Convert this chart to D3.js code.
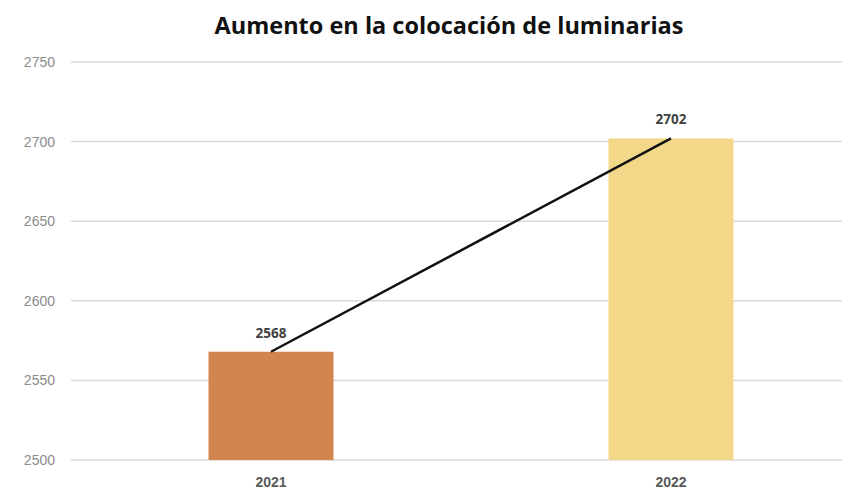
<!DOCTYPE html>
<html lang="es">
<head>
<meta charset="utf-8">
<title>Aumento en la colocación de luminarias</title>
<script src="https://cdnjs.cloudflare.com/ajax/libs/d3/7.8.5/d3.min.js"></script>
<style>
    body { margin: 0; background: #fff; }
    svg { display: block; font-family: "Open Sans", "Liberation Sans", sans-serif; }
    .grid line { stroke: #d9d9d9; stroke-width: 1.5px; }
    .y-axis text { fill: #8c8c8c; font-size: 14px; }
    .x-axis text { fill: #595959; font-size: 14px; font-weight: bold; }
    .value { fill: #404040; font-size: 13.5px; font-weight: bold; }
</style>
</head>
<body>
<svg id="chart" width="842" height="496"></svg>
<script>
// data
var years = ["2021", "2022"];
var values = [2568, 2702];
var barColors = ["#d3854f", "#f3d88a"];
var yTicks = [2500, 2550, 2600, 2650, 2700, 2750];

var svg = d3.select("#chart");

var x = d3.scaleBand()
    .domain(years)
    .range([71, 871])
    .paddingInner(0.6875)
    .paddingOuter(0.34375);

var y = d3.scaleLinear()
    .domain([2500, 2750])
    .range([460, 62]);

// title
svg.append("text")
    .attr("x", 449)
    .attr("y", 34)
    .attr("text-anchor", "middle")
    .style("font-size", "23.5px")
    .style("font-weight", "bold")
    .style("fill", "#111")
    .text("Aumento en la colocación de luminarias");

// gridlines
svg.append("g")
    .attr("class", "grid")
    .selectAll("line")
    .data(yTicks)
    .enter().append("line")
    .attr("x1", 71)
    .attr("x2", 842)
    .attr("y1", function (d) { return y(d); })
    .attr("y2", function (d) { return y(d); });

// y axis labels
var yAxis = svg.append("g")
    .attr("class", "y-axis")
    .attr("transform", "translate(55,0)")
    .call(d3.axisLeft(y).tickValues(yTicks).tickFormat(d3.format("d")).tickSize(0).tickPadding(0));
yAxis.select(".domain").remove();
yAxis.selectAll("text").style("font-family", null);

// bars
svg.append("g")
    .selectAll("rect")
    .data(values)
    .enter().append("rect")
    .attr("x", function (d, i) { return x(years[i]); })
    .attr("y", function (d) { return y(d); })
    .attr("width", x.bandwidth())
    .attr("height", function (d) { return y(2500) - y(d); })
    .attr("fill", function (d, i) { return barColors[i]; });

// trend line between bar tops
var line = d3.line()
    .x(function (d, i) { return x(years[i]) + x.bandwidth() / 2; })
    .y(function (d) { return y(d); });

svg.append("path")
    .datum(values)
    .attr("d", line)
    .attr("fill", "none")
    .attr("stroke", "#111")
    .attr("stroke-width", 2.5);

// value labels
svg.append("g")
    .selectAll("text")
    .data(values)
    .enter().append("text")
    .attr("class", "value")
    .attr("x", function (d, i) { return x(years[i]) + x.bandwidth() / 2; })
    .attr("y", function (d) { return y(d) - 14; })
    .attr("text-anchor", "middle")
    .text(function (d) { return d; });

// x axis labels
var xAxis = svg.append("g")
    .attr("class", "x-axis")
    .attr("transform", "translate(0,477)")
    .call(d3.axisBottom(x).tickSize(0).tickPadding(0));
xAxis.select(".domain").remove();
xAxis.selectAll("text").style("font-family", null);
</script>
</body>
</html>
